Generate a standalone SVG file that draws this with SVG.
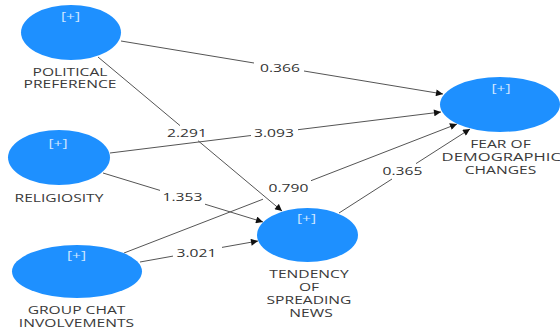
<svg xmlns="http://www.w3.org/2000/svg" width="560" height="331" viewBox="0 0 560 331">
<defs>
<marker id="arr" viewBox="0 0 10 10" refX="10" refY="5" markerWidth="8" markerHeight="7" markerUnits="userSpaceOnUse" orient="auto">
<path d="M0,0 L10,5 L0,10 Z" fill="#111"/>
</marker>
<style>
.node ellipse{fill:#1E90FF}
.plus{font-family:"Open Sans","DejaVu Sans",sans-serif;font-size:11px;fill:#cfe6ff;text-anchor:middle}
.lbl{font-family:"Open Sans","DejaVu Sans",sans-serif;font-size:11px;fill:#3a3a3a;text-anchor:middle}
.num{font-family:"Open Sans","DejaVu Sans",sans-serif;font-size:11px;fill:#333;text-anchor:middle}
.edge{fill:none;stroke:#555;stroke-width:1}
</style>
</defs>
<rect width="560" height="331" fill="#fff"/>
<g id="connectors">
<path class="edge" d="M121,41 L254,63 M304,71 L443,94" marker-end="url(#arr)"/>
<path class="edge" d="M98,57 L180,125.6 M198,140.7 L282,211" marker-end="url(#arr)"/>
<path class="edge" d="M110,153 L251,135.5 M298,129.7 L441,112" marker-end="url(#arr)"/>
<path class="edge" d="M103,173 L160,190.4 M205,204.2 L263,222" marker-end="url(#arr)"/>
<path class="edge" d="M124,253 L263,199.2 M311,180.7 L457,124" marker-end="url(#arr)"/>
<path class="edge" d="M140,262 L173,256.1 M222,247.4 L258,241" marker-end="url(#arr)"/>
<path class="edge" d="M339,213 L392,179 M416,163.6 L470,129" marker-end="url(#arr)"/>
<text class="num" transform="translate(280 72) scale(1.42 1)">0.366</text>
<text class="num" transform="translate(187 137) scale(1.42 1)">2.291</text>
<text class="num" transform="translate(274 137) scale(1.42 1)">3.093</text>
<text class="num" transform="translate(182.5 201) scale(1.42 1)">1.353</text>
<text class="num" transform="translate(288.5 192) scale(1.42 1)">0.790</text>
<text class="num" transform="translate(196.5 257) scale(1.42 1)">3.021</text>
<text class="num" transform="translate(402.5 175) scale(1.42 1)">0.365</text>
</g>
<g id="political-preference" class="node">
<ellipse cx="71" cy="32.5" rx="50" ry="27.5"/>
<text class="plus" transform="translate(70.5 19.5) scale(1.42 1)">[+]</text>
<text class="lbl" transform="translate(70 76) scale(1.42 1)"><tspan x="0" y="0">POLITICAL</tspan><tspan x="0" y="12">PREFERENCE</tspan></text>
</g>
<g id="religiosity" class="node">
<ellipse cx="59" cy="157.5" rx="51" ry="27.5"/>
<text class="plus" transform="translate(58 146.5) scale(1.42 1)">[+]</text>
<text class="lbl" transform="translate(59 202) scale(1.42 1)">RELIGIOSITY</text>
</g>
<g id="group-chat-involvements" class="node">
<ellipse cx="77" cy="271.5" rx="65" ry="26.5"/>
<text class="plus" transform="translate(76.5 258.5) scale(1.42 1)">[+]</text>
<text class="lbl" transform="translate(76.5 314) scale(1.42 1)"><tspan x="0" y="0">GROUP CHAT</tspan><tspan x="0" y="13">INVOLVEMENTS</tspan></text>
</g>
<g id="tendency-of-spreading-news" class="node">
<ellipse cx="307.5" cy="235" rx="50.5" ry="27"/>
<text class="plus" transform="translate(306.5 222) scale(1.42 1)">[+]</text>
<text class="lbl" transform="translate(309 278) scale(1.42 1)"><tspan x="0" y="0">TENDENCY</tspan><tspan x="0" y="13">OF</tspan><tspan x="0" y="26">SPREADING</tspan><tspan x="1.4" y="39">NEWS</tspan></text>
</g>
<g id="fear-of-demographic-changes" class="node">
<ellipse cx="500" cy="104.5" rx="60" ry="27.5"/>
<text class="plus" transform="translate(501 92) scale(1.42 1)">[+]</text>
<text class="lbl" transform="translate(500.5 148) scale(1.42 1)"><tspan x="0" y="0">FEAR OF</tspan><tspan x="0.5" y="13" textLength="84" lengthAdjust="spacingAndGlyphs">DEMOGRAPHIC</tspan><tspan x="0" y="26">CHANGES</tspan></text>
</g>
</svg>
